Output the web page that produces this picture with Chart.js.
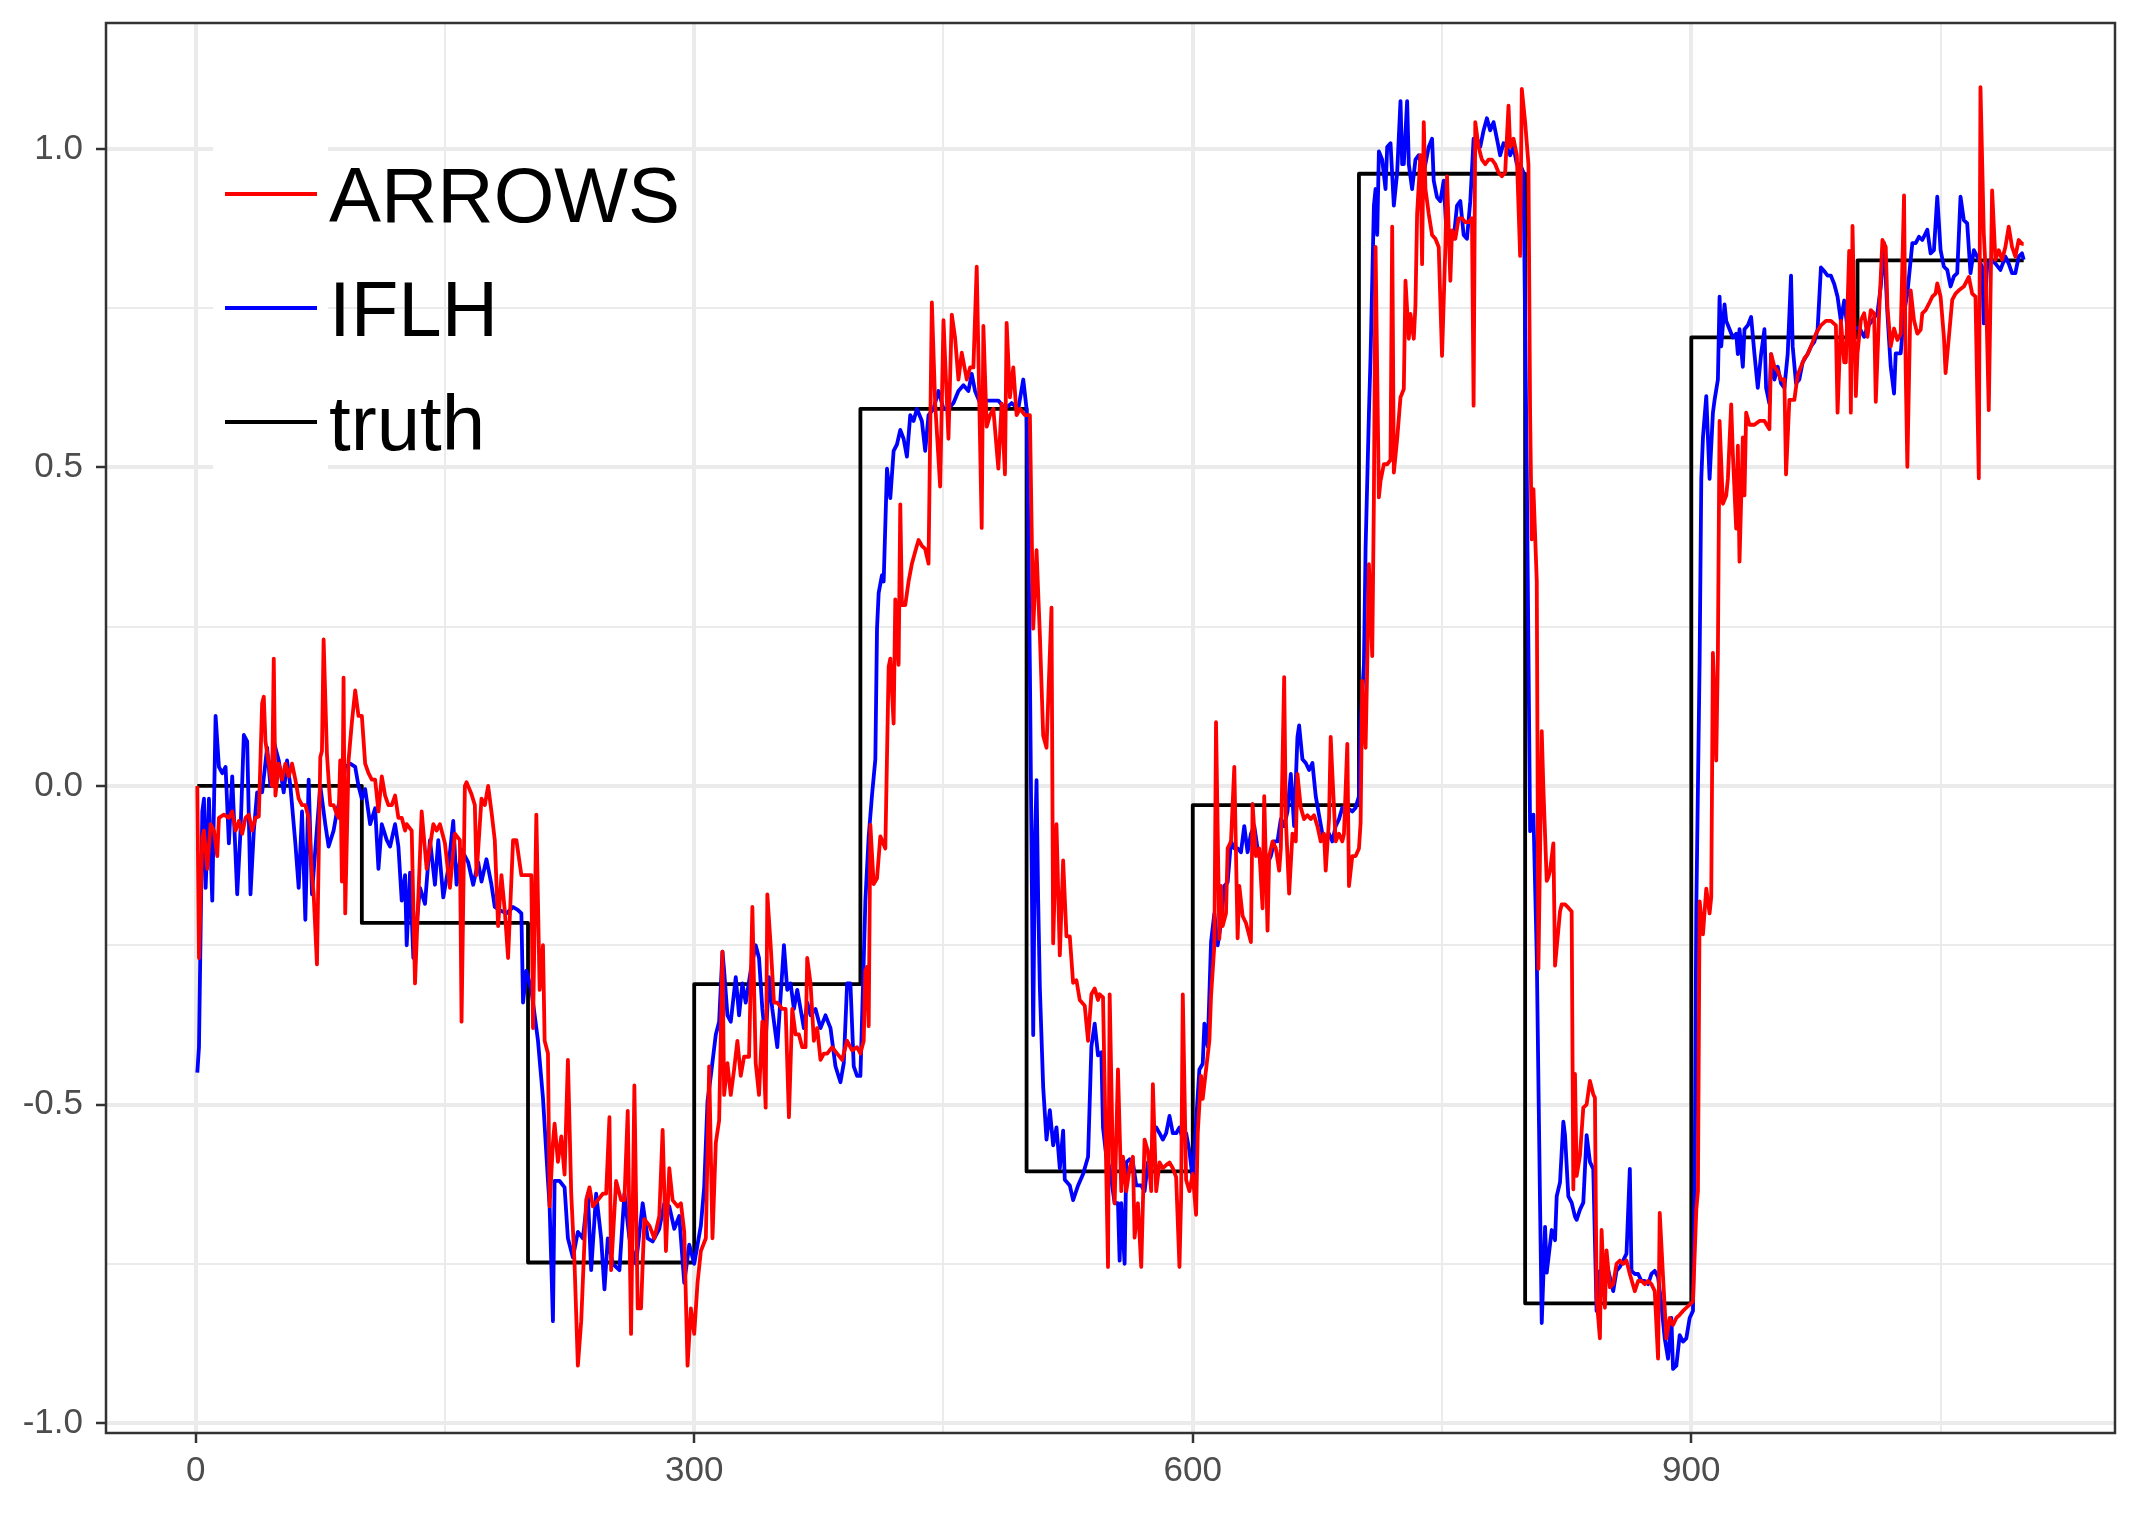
<!DOCTYPE html>
<html>
<head>
<meta charset="utf-8">
<script src="https://cdn.jsdelivr.net/npm/chart.js@4.4.0/dist/chart.umd.min.js"></script>
<style>
  html, body { margin: 0; padding: 0; background: #ffffff; }
  canvas { display: block; }
</style>
</head>
<body>
<canvas id="stock_chart" width="2140" height="1518"></canvas>
<script>
// values, as [x, y] pairs
const arrowsPoints = [
  [1,0.0],[2,-0.27],[4,-0.08],[5,-0.07],[7,-0.13],[9,-0.06],[11,-0.07],[13,-0.11],[14,-0.05],[17,-0.045],
  [20,-0.05],[22,-0.04],[24,-0.07],[26,-0.055],[28,-0.075],[30,-0.05],[32,-0.045],[34,-0.07],[36,-0.05],[38,-0.048],
  [40,0.13],[41,0.14],[42,0.07],[44,0.035],[46,0.0],[47,0.2],[48,-0.015],[50,0.035],[52,0.01],[54,0.035],
  [56,0.015],[58,0.035],[60,0.01],[62,-0.02],[64,-0.03],[66,-0.03],[68,-0.05],[70,-0.14],[71,-0.17],[73,-0.28],
  [75,0.045],[76,0.055],[77,0.23],[79,0.05],[81,-0.03],[83,-0.03],[85,-0.045],[86,-0.05],[87,0.04],[88,-0.15],
  [89,0.17],[90,-0.2],[92,0.04],[94,0.1],[96,0.15],[98,0.11],[100,0.11],[102,0.035],[104,0.02],[106,0.01],
  [108,0.01],[110,-0.04],[112,0.015],[114,-0.015],[116,-0.03],[118,-0.03],[120,-0.015],[122,-0.05],[124,-0.05],[126,-0.07],
  [127,-0.06],[130,-0.07],[132,-0.31],[136,-0.04],[139,-0.13],[143,-0.06],[145,-0.07],[147,-0.06],[150,-0.09],[153,-0.16],
  [156,-0.075],[159,-0.085],[160,-0.37],[162,0.0],[163,0.006],[166,-0.013],[168,-0.03],[169,-0.14],[172,-0.02],[174,-0.03],
  [176,0.0],[178,-0.04],[180,-0.085],[182,-0.22],[184,-0.14],[186,-0.195],[188,-0.27],[191,-0.085],[193,-0.085],[196,-0.14],
  [199,-0.14],[202,-0.14],[203,-0.38],[205,-0.045],[207,-0.32],[209,-0.25],[210,-0.4],[212,-0.42],[213,-0.66],[215,-0.56],
  [216,-0.53],[218,-0.59],[220,-0.55],[222,-0.61],[224,-0.43],[226,-0.64],[228,-0.75],[230,-0.91],[232,-0.84],[235,-0.65],
  [237,-0.63],[239,-0.66],[242,-0.65],[245,-0.64],[247,-0.64],[249,-0.52],[250,-0.76],[253,-0.62],[256,-0.65],[258,-0.65],
  [260,-0.51],[262,-0.86],[264,-0.47],[266,-0.82],[268,-0.82],[270,-0.68],[273,-0.69],[276,-0.71],[279,-0.675],[281,-0.54],
  [283,-0.73],[285,-0.6],[287,-0.65],[290,-0.66],[292,-0.655],[294,-0.7],[296,-0.91],[298,-0.82],[300,-0.86],
  [302,-0.78],[304,-0.73],[307,-0.71],[309,-0.44],[311,-0.71],[313,-0.56],[315,-0.525],[317,-0.26],[318,-0.485],[320,-0.435],
  [322,-0.485],[324,-0.445],[326,-0.4],[328,-0.455],[330,-0.425],[333,-0.425],[335,-0.19],[337,-0.435],[339,-0.485],[341,-0.37],
  [343,-0.505],[344,-0.17],[346,-0.25],[348,-0.34],[350,-0.34],[353,-0.35],[355,-0.35],[357,-0.52],[359,-0.35],[361,-0.39],
  [363,-0.39],[365,-0.41],[367,-0.41],[368,-0.27],[370,-0.31],[372,-0.4],[374,-0.38],[376,-0.43],[378,-0.42],[380,-0.42],
  [383,-0.41],[386,-0.42],[389,-0.43],[392,-0.4],[395,-0.415],[398,-0.41],[400,-0.42],[402,-0.4],[403,-0.29],
  [404,-0.284],[405,-0.377],[406,-0.061],[408,-0.154],[410,-0.145],[412,-0.079],[415,-0.098],[417,0.187],[418,0.2],[420,0.098],
  [421,0.293],[423,0.19],[424,0.442],[425,0.284],[427,0.284],[429,0.321],[431,0.349],[433,0.368],[435,0.386],[437,0.377],
  [439,0.372],[441,0.349],[443,0.759],[445,0.6],[448,0.47],[450,0.731],[453,0.545],[455,0.74],[457,0.703],[459,0.638],
  [461,0.68],[464,0.638],[466,0.657],[468,0.657],[470,0.815],[473,0.405],[474,0.722],[476,0.564],[478,0.582],[480,0.592],
  [483,0.498],[485,0.6],[487,0.489],[488,0.727],[490,0.61],[492,0.657],[494,0.582],[496,0.592],[499,0.582],[502,0.582],
  [504,0.247],[506,0.37],[508,0.237],[510,0.079],[512,0.06],[515,0.28],[516,-0.247],[518,-0.06],[520,-0.266],[522,-0.117],
  [524,-0.236],[526,-0.236],[528,-0.309],[530,-0.305],[532,-0.336],[535,-0.345],[537,-0.4],[539,-0.327],[541,-0.318],[543,-0.336],
  [544,-0.327],[546,-0.332],[549,-0.755],[550,-0.327],[552,-0.6],[553,-0.655],[555,-0.445],[557,-0.636],[558,-0.582],[560,-0.636],
  [562,-0.6],[564,-0.582],[565,-0.709],[567,-0.655],[569,-0.755],[571,-0.555],[573,-0.573],[575,-0.636],[576,-0.468],[578,-0.636],
  [580,-0.591],[582,-0.6],[584,-0.595],[586,-0.591],[588,-0.6],[590,-0.614],[592,-0.755],[593,-0.645],[594,-0.327],[596,-0.618],
  [598,-0.636],[600,-0.609],[602,-0.673],[603,-0.545],[605,-0.455],[606,-0.491],[608,-0.445],
  [610,-0.4],[611,-0.33],[613,-0.25],[614,0.1],[616,-0.24],[617,-0.157],[618,-0.22],[620,-0.2],[621,-0.098],[623,-0.087],
  [625,0.03],[627,-0.239],[628,-0.157],[630,-0.204],[632,-0.215],[635,-0.245],[636,-0.028],[638,-0.11],[640,-0.098],[642,-0.192],
  [643,-0.016],[645,-0.227],[646,-0.11],[648,-0.087],[650,-0.098],[652,-0.133],[653,-0.098],[655,0.171],[656,-0.052],[658,-0.169],
  [660,-0.075],[662,-0.087],[663,0.019],[665,-0.034],[667,-0.052],[669,-0.046],[671,-0.052],[673,-0.046],[675,-0.063],[677,-0.087],
  [679,-0.075],[680,-0.133],[682,-0.052],[683,0.077],[684,0.019],[686,-0.087],[688,-0.075],[690,-0.087],[691,-0.075],[693,0.066],
  [694,-0.157],[696,-0.11],[698,-0.11],[700,-0.098],
  [701,-0.058],[702,0.165],[704,0.06],[705,0.191],[706,0.348],[708,0.204],[709,0.453],[710,0.846],[712,0.453],[713,0.479],
  [715,0.505],[717,0.505],[719,0.512],[720,0.878],[721,0.492],[723,0.545],[725,0.61],[727,0.623],[728,0.793],[730,0.702],
  [731,0.741],[733,0.702],[734,0.754],[735,0.898],[737,0.99],[738,0.819],[739,1.042],[740,0.937],[742,0.898],[744,0.865],
  [746,0.859],[748,0.846],[750,0.675],[752,0.846],[753,0.957],[755,0.793],[756,0.872],[758,0.859],[760,0.891],[762,0.891],
  [764,0.885],[766,0.885],[768,0.891],[769,0.597],[770,1.042],[772,1.003],[774,0.983],[776,0.976],[778,0.983],[780,0.983],
  [782,0.976],[784,0.963],[786,0.957],[788,0.963],[790,1.068],[791,1.003],[793,1.016],[795,0.99],[797,0.832],[798,1.094],
  [800,1.042],[802,0.976],[803,0.584],[804,0.387],[805,0.466],[807,0.322],[808,-0.287],[810,0.086],[811,-0.005],[813,-0.149],
  [814,-0.143],
  [815,-0.133],[817,-0.09],[818,-0.282],[821,-0.197],[822,-0.186],[824,-0.186],[826,-0.191],[828,-0.197],[829,-0.633],[830,-0.452],
  [831,-0.612],[833,-0.58],[835,-0.505],[837,-0.5],[839,-0.463],[841,-0.484],[842,-0.489],[843,-0.803],[845,-0.867],[846,-0.697],
  [848,-0.819],[849,-0.729],[851,-0.787],[853,-0.782],[855,-0.75],[857,-0.745],[859,-0.75],[861,-0.745],[863,-0.766],[866,-0.793],
  [868,-0.777],[870,-0.777],[872,-0.782],[874,-0.777],[876,-0.782],[878,-0.793],[880,-0.899],[881,-0.67],[883,-0.771],[885,-0.867],
  [887,-0.835],[889,-0.846],[891,-0.835],[893,-0.83],[895,-0.824],[897,-0.819],[899,-0.814],[901,-0.809],[903,-0.665],
  [904,-0.636],[905,-0.181],[907,-0.233],[909,-0.161],[911,-0.2],[912,-0.174],[913,0.209],[915,0.04],[916,0.209],[917,0.573],
  [919,0.443],[921,0.456],[922,0.482],[924,0.599],[925,0.521],[927,0.404],[928,0.534],[929,0.352],[931,0.547],[932,0.456],
  [933,0.586],[935,0.567],[938,0.567],[941,0.573],[944,0.573],[947,0.56],[948,0.678],[950,0.658],[952,0.651],[954,0.638],
  [956,0.638],[957,0.489],[959,0.606],[962,0.606],[964,0.645],[966,0.658],[968,0.671],[970,0.678],[972,0.69],[975,0.71],
  [978,0.723],[981,0.73],[984,0.73],[987,0.723],[988,0.586],[990,0.73],[992,0.665],[993,0.665],[995,0.84],[996,0.586],
  [997,0.879],[999,0.612],
  [1000,0.679],[1002,0.731],[1004,0.742],[1006,0.705],[1008,0.747],[1010,0.742],[1011,0.603],[1013,0.742],[1015,0.857],[1017,0.846],
  [1018,0.752],[1020,0.69],[1022,0.718],[1024,0.7],[1026,0.71],[1028,0.927],[1029,0.653],[1030,0.501],[1032,0.778],[1034,0.731],
  [1036,0.71],[1038,0.716],[1039,0.742],[1041,0.747],[1043,0.757],[1045,0.768],[1047,0.773],[1048,0.789],[1050,0.768],[1052,0.705],
  [1053,0.648],[1055,0.705],[1057,0.763],[1059,0.773],[1061,0.778],[1064,0.784],[1066,0.794],[1067,0.799],[1069,0.773],[1071,0.768],
  [1073,0.483],[1074,1.097],[1076,0.867],[1077,0.815],[1079,0.59],[1081,0.935],[1083,0.826],[1085,0.841],[1087,0.826],[1089,0.846],
  [1091,0.878],[1093,0.846],[1095,0.831],[1097,0.857],[1099,0.851],[1100,0.851]
];

const iflhPoints = [
  [1,-0.45],[2,-0.41],[4,-0.04],[5,-0.02],[6,-0.16],[8,-0.02],[10,-0.18],[12,0.11],[14,0.03],[16,0.02],
  [18,0.03],[20,-0.09],[22,0.015],[25,-0.17],[27,-0.07],[29,0.08],[31,0.07],[33,-0.17],[35,-0.07],[37,-0.01],
  [40,-0.01],[43,0.06],[45,0.0],[47,0.07],[50,0.04],[53,-0.01],[55,0.04],[57,0.0],[60,-0.09],[62,-0.16],
  [64,-0.04],[66,-0.21],[68,0.01],[70,-0.17],[72,-0.1],[75,0.0],[78,-0.06],[80,-0.095],[83,-0.07],[85,-0.04],
  [88,-0.01],[90,0.03],[93,0.035],[96,0.03],[98,0.0],[100,-0.02],[102,-0.005],[105,-0.06],[108,-0.035],[110,-0.13],
  [112,-0.06],[115,-0.085],[117,-0.095],[120,-0.06],[122,-0.095],[124,-0.18],[126,-0.14],
  [127,-0.25],[129,-0.136],[131,-0.27],[135,-0.16],[138,-0.185],[141,-0.085],[144,-0.155],[146,-0.085],[149,-0.175],[152,-0.13],
  [155,-0.055],[157,-0.155],[160,-0.1],[164,-0.12],[167,-0.155],[170,-0.12],[172,-0.15],[175,-0.115],[178,-0.155],[180,-0.19],
  [183,-0.195],[187,-0.2],[191,-0.19],[194,-0.195],[196,-0.2],[197,-0.34],[199,-0.29],[202,-0.32],[206,-0.4],[209,-0.49],
  [212,-0.62],[213,-0.66],[215,-0.84],[216,-0.62],[219,-0.62],[222,-0.63],[224,-0.71],[227,-0.74],[230,-0.7],[233,-0.71],
  [236,-0.64],[238,-0.76],[241,-0.64],[244,-0.71],[246,-0.79],[248,-0.71],[251,-0.75],[255,-0.76],[258,-0.64],[261,-0.71],
  [265,-0.75],[269,-0.655],[272,-0.71],[275,-0.715],[279,-0.695],[282,-0.655],[285,-0.66],[288,-0.695],[291,-0.675],[294,-0.78],
  [297,-0.72],[300,-0.75],
  [302,-0.72],[304,-0.69],[306,-0.63],[308,-0.495],[310,-0.455],[313,-0.39],[315,-0.37],[317,-0.26],[318,-0.29],[320,-0.36],
  [322,-0.37],[325,-0.3],[327,-0.36],[329,-0.31],[331,-0.34],[334,-0.29],[337,-0.25],[339,-0.27],[341,-0.35],[343,-0.4],
  [345,-0.3],[347,-0.35],[350,-0.41],[352,-0.33],[354,-0.25],[356,-0.32],[358,-0.31],[360,-0.35],[362,-0.32],[364,-0.35],
  [366,-0.38],[368,-0.34],[370,-0.36],[373,-0.35],[376,-0.38],[379,-0.36],[382,-0.38],[385,-0.44],[388,-0.465],[390,-0.435],
  [392,-0.31],[394,-0.31],[396,-0.44],[398,-0.455],[400,-0.455],
  [402,-0.275],[403,-0.18],[405,-0.079],[407,-0.014],[409,0.042],[410,0.247],[411,0.303],[413,0.331],[414,0.321],[416,0.498],
  [418,0.452],[420,0.526],[422,0.536],[424,0.559],[426,0.545],[428,0.517],[430,0.582],[432,0.573],[434,0.592],[437,0.573],
  [439,0.526],[441,0.582],[444,0.592],[447,0.62],[450,0.592],[453,0.592],[456,0.601],[459,0.62],[462,0.629],[465,0.62],
  [467,0.647],[469,0.62],[472,0.601],[475,0.605],[479,0.605],[483,0.605],[487,0.592],[491,0.601],[495,0.592],[498,0.638],
  [500,0.592],
  [501,0.409],[502,0.182],[504,-0.391],[505,-0.091],[506,0.009],[507,-0.182],[508,-0.318],[510,-0.473],[512,-0.555],[514,-0.509],
  [516,-0.564],[518,-0.536],[520,-0.6],[522,-0.541],[523,-0.618],[526,-0.627],[528,-0.65],[531,-0.627],[534,-0.609],[537,-0.582],
  [539,-0.409],[541,-0.373],[543,-0.423],[545,-0.418],[546,-0.536],[548,-0.582],[550,-0.6],[553,-0.655],[555,-0.655],[556,-0.745],
  [557,-0.655],[559,-0.75],[560,-0.591],[562,-0.586],[564,-0.591],[566,-0.627],[569,-0.627],[571,-0.636],[573,-0.591],[575,-0.582],
  [576,-0.545],[578,-0.536],[580,-0.545],[582,-0.555],[584,-0.545],[586,-0.518],[588,-0.545],[590,-0.545],[592,-0.536],[594,-0.555],
  [596,-0.545],[598,-0.573],[600,-0.618],[602,-0.527],[604,-0.445],[606,-0.436],[607,-0.373],[609,-0.409],[611,-0.245],[613,-0.2],
  [615,-0.25],[617,-0.215],[619,-0.157],[621,-0.151],[623,-0.087],[625,-0.098],[627,-0.098],[629,-0.104],[631,-0.063],[633,-0.104],
  [635,-0.075],[637,-0.063],[639,-0.098],[641,-0.122],[643,-0.098],[645,-0.122],[647,-0.11],[649,-0.087],[651,-0.087],[653,-0.052],
  [655,-0.063],[657,-0.04],[659,0.019],[661,-0.063],[663,0.077],[664,0.095],[666,0.042],[668,0.036],[670,0.025],[672,0.036],
  [674,-0.016],[676,-0.046],[678,-0.075],[680,-0.081],[682,-0.075],[684,-0.087],[686,-0.063],[688,-0.052],[690,-0.034],[693,-0.034],
  [696,-0.04],[698,-0.034],[700,-0.016],
  [701,0.099],[703,0.191],[704,0.374],[706,0.584],[707,0.675],[709,0.911],[710,0.937],[711,0.865],[712,0.996],[714,0.983],
  [716,0.937],[717,1.003],[719,1.009],[721,0.911],[723,0.963],[725,1.075],[726,0.976],[727,0.976],[729,1.075],[730,0.976],
  [732,0.937],[734,0.983],[736,0.99],[739,0.963],[742,1.003],[744,1.016],[745,0.95],[747,0.924],[749,0.918],[751,0.95],
  [753,0.852],[755,0.859],[757,0.859],[759,0.911],[761,0.918],[763,0.865],[765,0.859],[767,0.918],[769,1.016],[771,1.016],
  [773,1.003],[775,1.029],[777,1.048],[779,1.029],[781,1.042],[783,1.016],[785,0.99],[787,1.009],[789,1.003],[791,0.99],
  [793,1.003],[795,0.976],[797,0.976],[799,0.963],[801,0.492],[803,-0.071],[805,-0.045],[807,-0.267],[809,-0.66],[810,-0.843],
  [812,-0.692],[813,-0.764],
  [816,-0.697],[818,-0.713],[819,-0.644],[821,-0.622],[823,-0.527],[824,-0.548],[826,-0.644],[828,-0.654],[830,-0.676],[831,-0.681],
  [833,-0.665],[835,-0.654],[837,-0.548],[839,-0.59],[841,-0.601],[843,-0.824],[845,-0.761],[847,-0.793],[849,-0.75],[851,-0.771],
  [853,-0.793],[855,-0.761],[857,-0.755],[859,-0.745],[861,-0.734],[863,-0.601],[864,-0.761],[866,-0.766],[868,-0.766],[870,-0.777],
  [872,-0.777],[874,-0.782],[876,-0.766],[878,-0.761],[880,-0.771],[882,-0.814],[884,-0.867],[886,-0.899],[888,-0.835],[889,-0.915],
  [891,-0.91],[893,-0.862],[895,-0.872],[897,-0.867],[899,-0.835],[901,-0.824],
  [902,-0.623],[903,-0.194],[905,0.196],[906,0.482],[907,0.547],[909,0.612],[910,0.547],[911,0.482],[913,0.586],[914,0.606],
  [916,0.638],[917,0.768],[918,0.69],[920,0.756],[921,0.73],[923,0.717],[925,0.704],[927,0.71],[928,0.678],[929,0.717],
  [931,0.658],[932,0.717],[934,0.723],[936,0.736],[938,0.678],[940,0.625],[942,0.678],[944,0.717],[945,0.625],[947,0.6],
  [948,0.678],[950,0.638],[952,0.658],[954,0.632],[956,0.625],[958,0.678],[960,0.801],[961,0.69],[963,0.632],[965,0.638],
  [967,0.665],[970,0.678],[972,0.69],[974,0.697],[976,0.717],[978,0.814],[980,0.808],[982,0.801],[984,0.801],[986,0.788],
  [988,0.768],[990,0.73],[992,0.762],[994,0.717],[996,0.723],[998,0.717],
  [1001,0.72],[1004,0.705],[1006,0.721],[1009,0.731],[1012,0.742],[1014,0.784],[1016,0.852],[1018,0.742],[1020,0.658],[1022,0.616],
  [1023,0.679],[1026,0.679],[1028,0.742],[1030,0.773],[1033,0.852],[1035,0.852],[1037,0.862],[1039,0.857],[1042,0.873],[1044,0.836],
  [1046,0.841],[1048,0.925],[1050,0.841],[1052,0.815],[1054,0.81],[1056,0.784],[1058,0.8],[1060,0.805],[1062,0.925],[1064,0.888],
  [1066,0.883],[1068,0.805],[1070,0.841],[1073,0.826],[1075,0.815],[1076,0.726],[1078,0.815],[1080,0.826],[1083,0.82],[1086,0.81],
  [1089,0.831],[1091,0.82],[1093,0.805],[1095,0.805],[1097,0.831],[1099,0.836],[1100,0.826]
];

// truth is a step function: level i holds from truthStarts[i] to the next start
const truthStarts = [1, 100, 200, 300, 400, 500, 600, 700, 800, 900, 1000];
const truthLevels = [0, -0.215, -0.748, -0.311, 0.592, -0.605, -0.03, 0.961, -0.812, 0.704, 0.825];
const truthEnd = 1100;

const seriesNames = ['ARROWS', 'IFLH', 'truth'];
const seriesColors = ['#FF0000', '#0000FF', '#000000'];

const xMajorTicks = [0, 300, 600, 900];
const xMinorTicks = [150, 450, 750, 1050];
const yMajorTicks = [-1, -0.5, 0, 0.5, 1];
const yMinorTicks = [-0.75, -0.25, 0.25, 0.75];
const yTickLabels = ['-1.0', '-0.5', '0.0', '0.5', '1.0'];

const GRID = '#EBEBEB';
const INK = '#333333';
const TICK_TEXT = '#4D4D4D';
const FONT = "'Liberation Sans', Arial, Helvetica, sans-serif";
const LINE_W = 3.8;

function toXY(pairs) {
  return pairs.map((p) => ({ x: p[0], y: p[1] }));
}

function truthData() {
  const pts = truthStarts.map((s, i) => ({ x: s, y: truthLevels[i] }));
  pts.push({ x: truthEnd, y: truthLevels[truthLevels.length - 1] });
  return pts;
}

function tickList(major, minor) {
  return major.concat(minor).sort((a, b) => a - b).map((v) => ({ value: v }));
}

// ggplot-style full panel border plus the legend drawn inside the panel
const panelDecor = {
  id: 'panelDecor',
  afterDraw(chart) {
    const { ctx, chartArea: a } = chart;
    ctx.save();

    // legend keys sit on white squares that hide the grid
    const keyLeft = a.left + 107;
    const keyTop = a.top + 114;
    ctx.fillStyle = '#ffffff';
    ctx.fillRect(keyLeft, keyTop, 115, 342);

    ctx.font = '78px ' + FONT;
    ctx.textAlign = 'left';
    ctx.textBaseline = 'alphabetic';
    seriesNames.forEach((name, i) => {
      const cy = keyTop + 57 + i * 114;
      ctx.strokeStyle = seriesColors[i];
      ctx.lineWidth = LINE_W;
      ctx.lineCap = 'butt';
      ctx.beginPath();
      ctx.moveTo(keyLeft + 12, cy);
      ctx.lineTo(keyLeft + 104, cy);
      ctx.stroke();
      ctx.fillStyle = '#000000';
      ctx.fillText(name, keyLeft + 116, cy + 28);
    });

    ctx.strokeStyle = INK;
    ctx.lineWidth = 2.5;
    ctx.strokeRect(a.left, a.top, a.right - a.left, a.bottom - a.top);
    ctx.restore();
  }
};

const ctx = document.getElementById('stock_chart').getContext('2d');

new Chart(ctx, {
  type: 'line',
  data: {
    datasets: [
      { label: seriesNames[0], data: toXY(arrowsPoints), borderColor: seriesColors[0], borderWidth: LINE_W },
      { label: seriesNames[1], data: toXY(iflhPoints), borderColor: seriesColors[1], borderWidth: LINE_W },
      { label: seriesNames[2], data: truthData(), borderColor: seriesColors[2], borderWidth: LINE_W, stepped: 'before' }
    ]
  },
  options: {
    responsive: false,
    animation: false,
    devicePixelRatio: 1,
    layout: { padding: { top: 23, right: 25, left: 0, bottom: 0 } },
    elements: {
      point: { radius: 0, hoverRadius: 0 },
      line: { tension: 0, fill: false, borderJoinStyle: 'round', borderCapStyle: 'butt' }
    },
    plugins: { legend: { display: false }, tooltip: { enabled: false } },
    scales: {
      x: {
        type: 'linear',
        min: -53.95,
        max: 1154.95,
        afterBuildTicks: (s) => { s.ticks = tickList(xMajorTicks, xMinorTicks); },
        afterFit: (s) => { s.height = 85; s.paddingLeft = 0; s.paddingRight = 0; },
        border: { display: false },
        grid: {
          color: GRID,
          lineWidth: (c) => (xMajorTicks.includes(c.tick.value) ? 4 : 2),
          drawTicks: true,
          tickLength: 10,
          tickWidth: 2.5,
          tickColor: (c) => (xMajorTicks.includes(c.tick.value) ? INK : 'rgba(0,0,0,0)')
        },
        ticks: {
          autoSkip: false,
          maxRotation: 0,
          padding: 7,
          color: TICK_TEXT,
          font: { family: FONT, size: 35 },
          callback: (v) => (xMajorTicks.includes(v) ? String(v) : '')
        }
      },
      y: {
        type: 'linear',
        min: -1.0156,
        max: 1.1976,
        afterBuildTicks: (s) => { s.ticks = tickList(yMajorTicks, yMinorTicks); },
        // keep the label overhang from pushing the panel down
        afterFit: (s) => { s.width = 106; s.paddingTop = 0; s.paddingBottom = 0; },
        border: { display: false },
        grid: {
          color: GRID,
          lineWidth: (c) => (yMajorTicks.includes(c.tick.value) ? 4 : 2),
          drawTicks: true,
          tickLength: 10,
          tickWidth: 2.5,
          tickColor: (c) => (yMajorTicks.includes(c.tick.value) ? INK : 'rgba(0,0,0,0)')
        },
        ticks: {
          autoSkip: false,
          padding: 13,
          color: TICK_TEXT,
          font: { family: FONT, size: 35 },
          callback: (v) => {
            const i = yMajorTicks.indexOf(v);
            return i >= 0 ? yTickLabels[i] : '';
          }
        }
      }
    }
  },
  plugins: [panelDecor]
});
</script>
</body>
</html>
